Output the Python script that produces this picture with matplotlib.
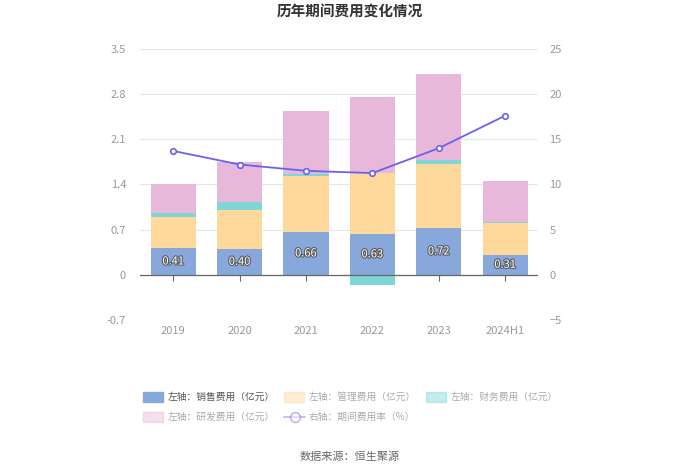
import matplotlib
matplotlib.use("Agg")
import matplotlib.pyplot as plt
import matplotlib.patheffects as pe
from matplotlib.patches import Rectangle
from matplotlib.lines import Line2D
import numpy as np

plt.rcParams['font.family'] = ['Noto Sans CJK SC', 'DejaVu Sans']

# data (亿元 / %)
years = ['2019', '2020', '2021', '2022', '2023', '2024H1']
sales = [0.41, 0.40, 0.66, 0.63, 0.72, 0.31]
admin = [0.49, 0.60, 0.87, 0.945, 1.00, 0.49]
finance = [0.05, 0.13, 0.03, -0.165, 0.06, 0.025]
rnd = [0.46, 0.615, 0.98, 1.18, 1.33, 0.62]
rate = [13.7, 12.2, 11.5, 11.25, 14.0, 17.6]

names = ['左轴：销售费用（亿元）', '左轴：管理费用（亿元）', '左轴：财务费用（亿元）',
         '左轴：研发费用（亿元）', '右轴：期间费用率（%）']
colors = ['#88a8dc', '#fed99b', '#80d6d6', '#e7b8da']
line_color = '#6a62ee'
tick_color = '#999999'

fig = plt.figure(figsize=(7, 4.74), dpi=100)
ax = fig.add_axes([0.2, 0.325, 0.569, 0.572])
ax2 = ax.twinx()

x = np.arange(len(years))
w = 0.68

# stack positives upward, negatives downward
pos_base = np.zeros(len(years))
neg_base = np.zeros(len(years))
for vals, c in zip([sales, admin, finance, rnd], colors):
    v = np.array(vals)
    bottom = np.where(v >= 0, pos_base, neg_base)
    ax.bar(x, v, w, bottom=bottom, color=c, zorder=3)
    pos_base = pos_base + np.where(v >= 0, v, 0)
    neg_base = neg_base + np.where(v < 0, v, 0)

for xi, s in zip(x, sales):
    ax.text(xi, s / 2, f'{s:.2f}', ha='center', va='center', color='white',
            fontsize=8, zorder=5,
            path_effects=[pe.withStroke(linewidth=1.6, foreground='#5a5a5a')])

ax2.plot(x, rate, color=line_color, lw=1.3, marker='o', ms=4,
         mfc='white', mec=line_color, mew=1.2, zorder=6)

ax.set_ylim(-0.7, 3.5)
ax.set_yticks(np.arange(-0.7, 3.51, 0.7))
ax.set_yticklabels(['-0.7', '0', '0.7', '1.4', '2.1', '2.8', '3.5'])
ax2.set_ylim(-5, 25)
ax2.set_yticks(np.arange(-5, 26, 5))
ax.set_xlim(-0.5, len(years) - 0.5)
ax.set_xticks(x)
ax.set_xticklabels(years)

ax.grid(axis='y', color='#e6e6e6', lw=0.8, zorder=0)
for a in (ax, ax2):
    for s in a.spines.values():
        s.set_visible(False)
    a.tick_params(axis='y', length=0, colors=tick_color, labelsize=8)
ax.tick_params(axis='y', pad=10)
ax2.tick_params(axis='y', pad=8)
ax.tick_params(axis='x', length=4, color='#666666', colors=tick_color,
               labelsize=8, direction='out')
ax.axhline(0, color='#666666', lw=0.9, zorder=4)
# x tick marks sit on the zero line, labels at the bottom
ax.spines['bottom'].set_position(('data', 0))
ax.xaxis.set_tick_params(pad=33)
ax2.patch.set_visible(False)

fig.text(0.5, 0.975, '历年期间费用变化情况', ha='center', va='center',
         fontsize=10.5, fontweight='bold', color='#333333')

# legend (manual, echarts-like layout)
W, H = 700, 474
items = [
    (143, 397, 0), (284, 397, 1), (426, 397, 2),
    (143, 417, 3), (284, 417, 4),
]
for (px, py, i) in items:
    faded = i != 0
    alpha = 0.45 if faded else 1.0
    tcol = '#aaaaaa' if faded else '#555555'
    if i < 4:
        fig.patches.append(Rectangle((px / W, 1 - (py + 5) / H), 20 / W, 10 / H,
                                     transform=fig.transFigure, color=colors[i],
                                     alpha=alpha))
    else:
        fig.lines.append(Line2D([px / W, (px + 21) / W], [1 - py / H] * 2,
                                transform=fig.transFigure, color=line_color,
                                lw=1.2, alpha=alpha))
        fig.lines.append(Line2D([(px + 10.5) / W], [1 - py / H],
                                transform=fig.transFigure, color=line_color,
                                marker='o', ms=7, mfc='white', mew=1.2,
                                alpha=alpha))
    fig.text((px + 25) / W, 1 - py / H, names[i], ha='left', va='center',
             fontsize=7, color=tcol)

fig.text(0.5, 1 - 457 / H, '数据来源：恒生聚源', ha='center', va='center',
         fontsize=8, color='#666666')

fig.savefig('out.png', dpi=100, facecolor='white')
